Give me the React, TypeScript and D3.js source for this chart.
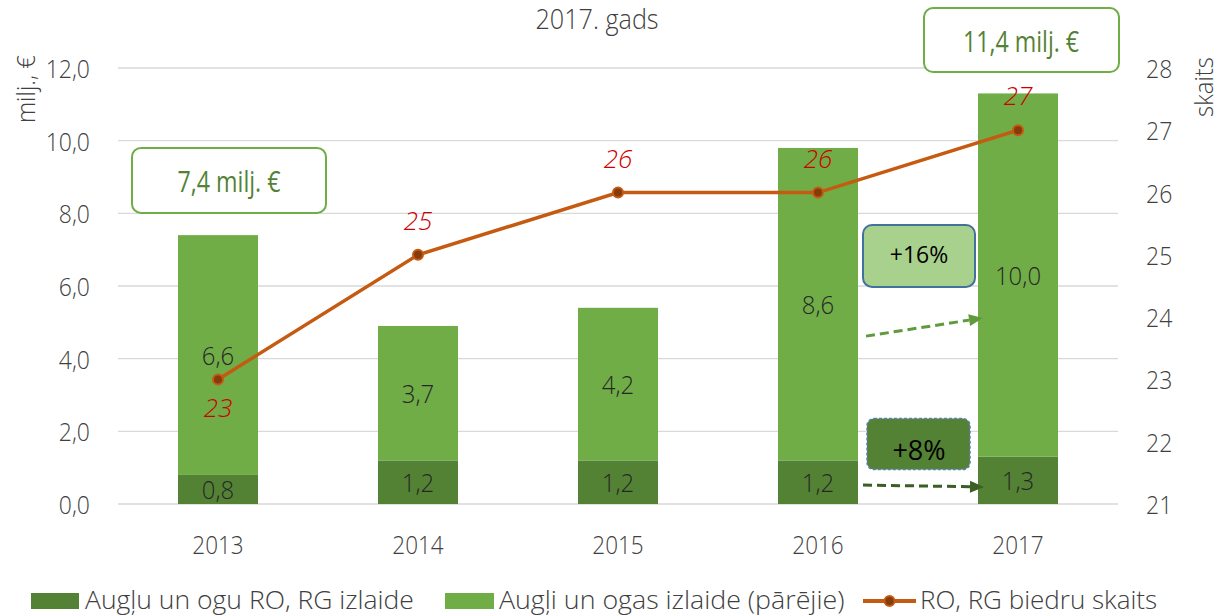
import React from "react";
import * as d3 from "d3";

const years = ["2013", "2014", "2015", "2016", "2017"];
const roOutput = [0.8, 1.2, 1.2, 1.2, 1.3];
const otherOutput = [6.6, 3.7, 4.2, 8.6, 10.0];
const members = [23, 25, 26, 26, 27];
const leftTicks = [0, 2, 4, 6, 8, 10, 12];
const rightTicks = [21, 22, 23, 24, 25, 26, 27, 28];
const memberLabelBelow = [true, false, false, false, false];

const title = "2017. gads";
const leftTitle = "milj., €";
const rightTitle = "skaits";
const legendLabels = ["Augļu un ogu RO, RG izlaide", "Augļi un ogas izlaide (pārējie)", "RO, RG biedru skaits"];

const W = 1219;
const H = 616;
const M = { left: 118, right: 1118, top: 68, bottom: 504 };

const C = {
  dark: "#548235",
  light: "#70AD47",
  line: "#C55A11",
  marker: "#843C0C",
  red: "#CC0000",
  grid: "#D9D9D9",
  tick: "#404040",
  label: "#262626",
};

const FONT = "'Open Sans', 'Noto Sans', sans-serif";

function T({ x, y, sx = 0.9, rotate = 0, children, ...rest }: any) {
  return (
    <text
      transform={`translate(${x},${y}) rotate(${rotate}) scale(${sx},1)`}
      fontFamily={FONT}
      {...rest}
    >
      {children}
    </text>
  );
}

const fmt = (v: number) => v.toFixed(1).replace(".", ",");

export default function App() {
  const x = d3.scaleBand<string>().domain(years).range([M.left, M.right]).paddingInner(0.6).paddingOuter(0.3);
  const yL = d3.scaleLinear().domain([0, 12]).range([M.bottom, M.top]);
  const yR = d3.scaleLinear().domain([21, 28]).range([M.bottom, M.top]);
  const bw = x.bandwidth();
  const cx = (i: number) => (x(years[i]) as number) + bw / 2;

  const stackData = years.map((yr, i) => ({ yr, ro: roOutput[i], other: otherOutput[i] }));
  const stack = d3.stack<any>().keys(["ro", "other"])(stackData);

  const line = d3
    .line<number>()
    .x((_, i) => cx(i))
    .y((d) => yR(d));

  const mid45 = (cx(3) + cx(4)) / 2;
  const totals = years.map((_, i) => roOutput[i] + otherOutput[i]);

  const arrow = (x1: number, y1: number, x2: number, y2: number, color: string) => {
    const ang = Math.atan2(y2 - y1, x2 - x1);
    const L = 14;
    const Wd = 6;
    const bx = x2 - L * Math.cos(ang);
    const by = y2 - L * Math.sin(ang);
    const px = -Math.sin(ang) * Wd;
    const py = Math.cos(ang) * Wd;
    return (
      <g>
        <line x1={x1} y1={y1} x2={bx} y2={by} stroke={color} strokeWidth={3} strokeDasharray="9 5" />
        <path d={`M${x2},${y2}L${bx + px},${by + py}L${bx - px},${by - py}Z`} fill={color} />
      </g>
    );
  };

  return (
    <svg width={W} height={H} style={{ position: "absolute", left: 0, top: 0, background: "#fff" }}>
      <rect width={W} height={H} fill="#fff" />
      {leftTicks.map((t) => (
        <line key={t} x1={M.left} x2={M.right} y1={yL(t)} y2={yL(t)} stroke={C.grid} strokeWidth={1.3} />
      ))}
      {leftTicks.map((t) => (
        <T key={t} x={90} y={yL(t) + 10} fontSize={25} fontWeight={300} fill={C.tick} textAnchor="end" sx={0.92}>
          {fmt(t)}
        </T>
      ))}
      {rightTicks.map((t) => (
        <T key={t} x={1146} y={yR(t) + 10} fontSize={25} fontWeight={300} fill={C.tick} textAnchor="start" sx={0.92}>
          {t}
        </T>
      ))}
      <T x={35} y={89} rotate={-90} fontSize={26} fontWeight={300} fill={C.tick} textAnchor="middle" sx={0.92}>
        {leftTitle}
      </T>
      <T x={1213} y={87} rotate={-90} fontSize={26} fontWeight={300} fill={C.tick} textAnchor="middle" sx={0.92}>
        {rightTitle}
      </T>
      <T x={597} y={29} fontSize={28} fontWeight={300} fill={C.tick} textAnchor="middle" sx={0.9}>
        {title}
      </T>
      {stack.map((s, si) => (
        <g key={si}>
          {s.map((d, i) => (
            <rect
              key={i}
              x={x(years[i])}
              width={bw}
              y={yL(d[1])}
              height={yL(d[0]) - yL(d[1])}
              fill={si === 0 ? C.dark : C.light}
            />
          ))}
        </g>
      ))}
      {stack.map((s, si) =>
        s.map((d, i) => (
          <T
            key={`${si}-${i}`}
            x={cx(i)}
            y={(yL(d[0]) + yL(d[1])) / 2 + 10}
            fontSize={26}
            fontWeight={300}
            fill={C.label}
            textAnchor="middle"
            sx={0.92}
          >
            {fmt(si === 0 ? roOutput[i] : otherOutput[i])}
          </T>
        ))
      )}
      {years.map((yr, i) => (
        <T key={yr} x={cx(i)} y={554} fontSize={25} fontWeight={300} fill={C.tick} textAnchor="middle" sx={0.9}>
          {yr}
        </T>
      ))}
      <path d={line(members) || ""} fill="none" stroke={C.line} strokeWidth={3.5} />
      {members.map((m, i) => (
        <circle key={i} cx={cx(i)} cy={yR(m)} r={5} fill={C.marker} stroke={C.line} strokeWidth={2} />
      ))}
      {members.map((m, i) => (
        <T
          key={i}
          x={cx(i)}
          y={yR(m) + (memberLabelBelow[i] ? 38 : -25)}
          fontSize={26}
          fontWeight={300}
          fontStyle="italic"
          fill={C.red}
          textAnchor="middle"
          sx={1}
        >
          {m}
        </T>
      ))}
      <rect x={cx(0) - 86} y={yL(9.8)} width={194} height={65} rx={9} fill="#fff" stroke={C.light} strokeWidth={2} />
      <T x={cx(0) + 11} y={yL(9.8) + 44} fontSize={29} fill={C.dark} textAnchor="middle" sx={0.8}>
        {fmt(totals[0])} milj. €
      </T>
      <rect x={cx(4) - 94} y={yL(13.65)} width={195} height={64} rx={9} fill="#fff" stroke={C.light} strokeWidth={2} />
      <T x={cx(4) + 3} y={yL(13.65) + 44} fontSize={29} fill={C.dark} textAnchor="middle" sx={0.8}>
        11,4 milj. €
      </T>
      <rect x={mid45 - 55} y={yL(7.68)} width={112} height={62} rx={9} fill="#A9D18E" stroke="#41719C" strokeWidth={2} />
      <T x={mid45 + 1} y={yL(7.68) + 38} fontSize={23} fill="#000" textAnchor="middle" sx={1}>
        +16%
      </T>
      <rect
        x={mid45 - 51}
        y={yL(2.35)}
        width={103}
        height={51}
        rx={7}
        fill={C.dark}
        stroke="#5B7FB5"
        strokeWidth={1.5}
        strokeDasharray="3 2"
      />
      <T x={mid45 + 1} y={yL(2.35) + 41} fontSize={27} fill="#000" textAnchor="middle" sx={1}>
        +8%
      </T>
      {arrow(mid45 - 52, yL(4.62), (x(years[4]) as number) + 5, yL(5.12), "#5F9A3C")}
      {arrow(mid45 - 55, yL(0.52), (x(years[4]) as number) + 6, yL(0.47), "#3A5E24")}
      <rect x={31} y={593} width={48} height={16} fill={C.dark} />
      <T x={85} y={609} fontSize={26} fontWeight={300} fill={C.tick} sx={1.02}>
        {legendLabels[0]}
      </T>
      <rect x={445} y={593} width={49} height={16} fill={C.light} />
      <T x={499} y={609} fontSize={26} fontWeight={300} fill={C.tick} sx={1.03}>
        {legendLabels[1]}
      </T>
      <line x1={863} x2={916} y1={601} y2={601} stroke={C.line} strokeWidth={4} />
      <circle cx={889.5} cy={601} r={5} fill={C.marker} stroke={C.line} strokeWidth={2} />
      <T x={920} y={609} fontSize={26} fontWeight={300} fill={C.tick} sx={1.0}>
        {legendLabels[2]}
      </T>
    </svg>
  );
}
